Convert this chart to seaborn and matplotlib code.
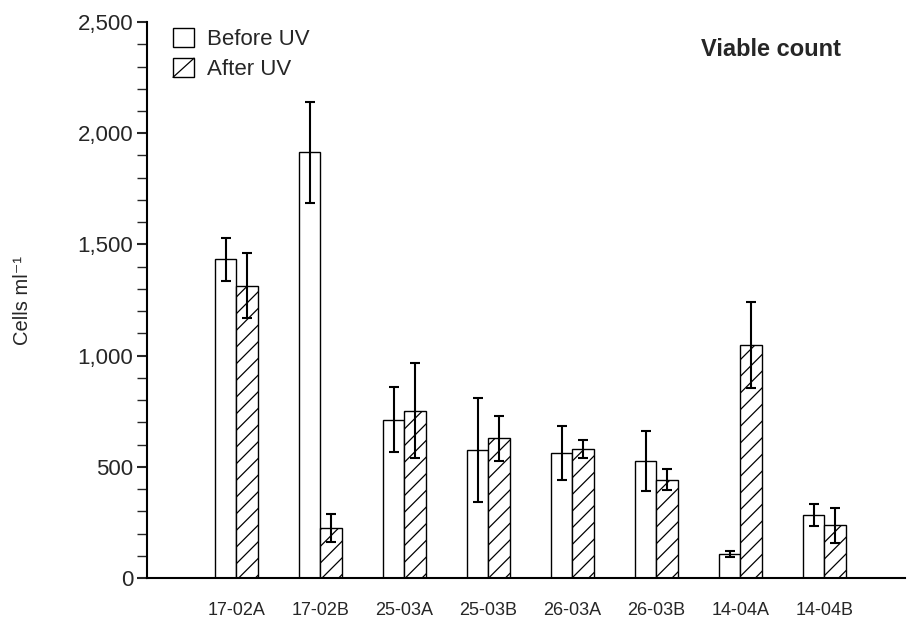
import matplotlib
matplotlib.use("Agg")
import matplotlib.pyplot as plt
import seaborn as sns
import pandas as pd
from matplotlib.patches import Patch, Rectangle
from matplotlib.lines import Line2D
from matplotlib.legend_handler import HandlerBase
from matplotlib.ticker import MultipleLocator, StrMethodFormatter

samples = ["17-02A", "17-02B", "25-03A", "25-03B", "26-03A", "26-03B", "14-04A", "14-04B"]
before_uv = [1433, 1914, 712, 575, 561, 525, 108, 282]
before_err = [98, 227, 145, 235, 122, 135, 15, 50]
after_uv = [1314, 225, 752, 628, 581, 442, 1048, 237]
after_err = [146, 65, 213, 100, 41, 48, 193, 78]
conditions = ["Before UV", "After UV"]

df = pd.DataFrame({
    "sample": samples * 2,
    "condition": [conditions[0]] * len(samples) + [conditions[1]] * len(samples),
    "value": before_uv + after_uv,
})

sns.set_style("white")
plt.rcParams["font.family"] = ["Liberation Sans", "DejaVu Sans"]
plt.rcParams["hatch.linewidth"] = 0.9
plt.rcParams["hatch.color"] = "black"

fig = plt.figure(figsize=(9.09, 6.24), dpi=100)
ax = fig.add_axes([0.1617, 0.0737, 0.9956 - 0.1617, 0.9647 - 0.0737])

sns.barplot(data=df, x="sample", y="value", hue="condition", hue_order=conditions,
            order=samples, palette=["white", "white"], edgecolor="black", linewidth=1.0,
            width=0.512, errorbar=None, legend=False, ax=ax, saturation=1)

bar_containers = list(ax.containers)
errs = [before_err, after_err]
for ci, cont in enumerate(bar_containers):
    for bar, e in zip(cont, errs[ci]):
        if ci == 1:
            bar.set_hatch("//")
        ax.errorbar(bar.get_x() + bar.get_width() / 2, bar.get_height(), yerr=e,
                    color="black", lw=1.5, capsize=3.5, capthick=1.5, fmt="none", zorder=5)

ax.set_xlim(-1.065, 7.96)
ax.set_ylim(0, 2500)
ax.yaxis.set_major_locator(MultipleLocator(500))
ax.yaxis.set_minor_locator(MultipleLocator(100))
ax.yaxis.set_major_formatter(StrMethodFormatter("{x:,.0f}"))
ax.tick_params(axis="y", which="major", direction="out", length=7, width=1.5, labelsize=16, pad=3, left=True)
ax.tick_params(axis="y", which="minor", direction="out", length=7, width=1.0, left=True)
ax.tick_params(axis="x", length=0, labelsize=13, pad=17)

for s in ["top", "right"]:
    ax.spines[s].set_visible(False)
for s in ["left", "bottom"]:
    ax.spines[s].set_color("black")
    ax.spines[s].set_linewidth(1.5)

ax.set_xlabel("")
ax.set_ylabel("Cells ml⁻¹", fontsize=14.5)
ax.yaxis.set_label_coords(-0.152, 0.5)

ax.text(0.823, 0.95, "Viable count", transform=ax.transAxes, ha="center", va="center",
        fontsize=17, fontweight="bold")


class BoxHandler(HandlerBase):
    def __init__(self, diagonal=False):
        super().__init__()
        self.diagonal = diagonal

    def create_artists(self, legend, orig_handle, xdescent, ydescent, width, height, fontsize, trans):
        rect = Rectangle((-xdescent, -ydescent), width, height, facecolor="white",
                         edgecolor="black", linewidth=1.0, transform=trans)
        arts = [rect]
        if self.diagonal:
            arts.append(Line2D([-xdescent, -xdescent + width], [-ydescent, -ydescent + height],
                               color="black", lw=0.9, transform=trans))
        return arts


h_before = Patch(facecolor="white", edgecolor="black")
h_after = Patch(facecolor="white", edgecolor="black", hatch="/")
ax.legend([h_before, h_after], conditions, loc="upper left", bbox_to_anchor=(0.0343, 0.989),
          frameon=False, fontsize=16, borderpad=0, borderaxespad=0,
          handlelength=0.95, handleheight=0.95, handletextpad=0.6, labelspacing=0.35,
          handler_map={h_before: BoxHandler(False), h_after: BoxHandler(True)})

fig.savefig("out.png", dpi=100)
